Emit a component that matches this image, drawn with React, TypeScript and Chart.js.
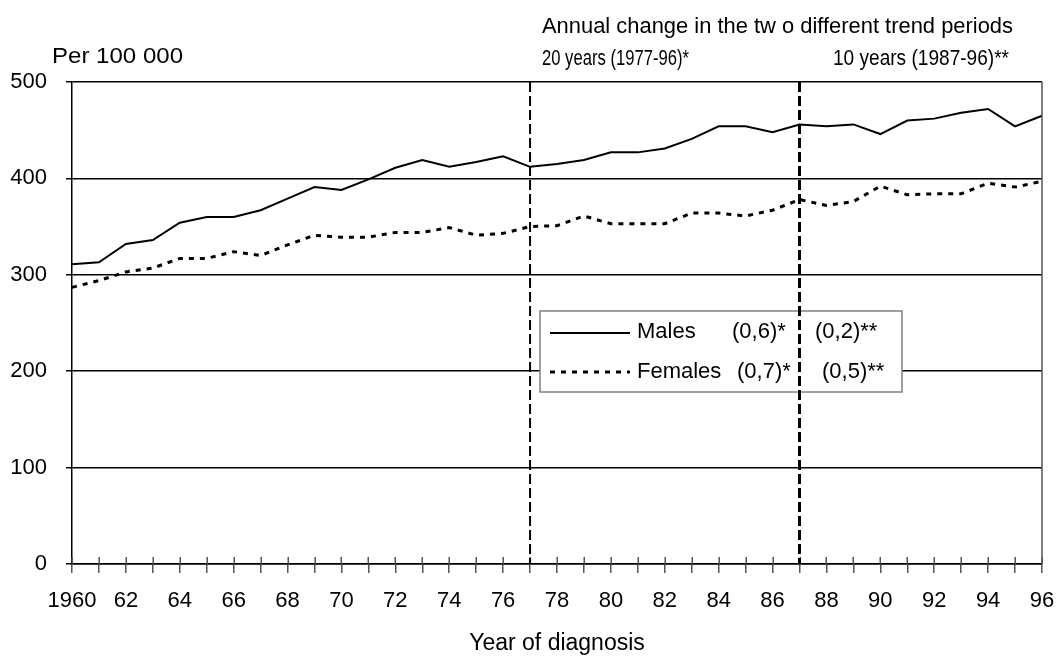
import React, { useEffect, useRef } from 'react';
import { Chart, registerables } from 'chart.js';

Chart.register(...registerables);

// ---- Data ----
const years = [
  1960, 1961, 1962, 1963, 1964, 1965, 1966, 1967, 1968, 1969,
  1970, 1971, 1972, 1973, 1974, 1975, 1976, 1977, 1978, 1979,
  1980, 1981, 1982, 1983, 1984, 1985, 1986, 1987, 1988, 1989,
  1990, 1991, 1992, 1993, 1994, 1995, 1996,
];
const xTickLabels = [
  '1960', '62', '64', '66', '68', '70', '72', '74', '76', '78',
  '80', '82', '84', '86', '88', '90', '92', '94', '96',
];
const males = [
  311, 313, 332, 336, 354, 360, 360, 367, 379, 391,
  388, 399, 411, 419, 412, 417, 423, 412, 415, 419,
  427, 427, 431, 441, 454, 454, 448, 456, 454, 456,
  446, 460, 462, 468, 472, 454, 465,
];
const females = [
  287, 294, 303, 307, 317, 317, 324, 320, 331, 341,
  339, 339, 344, 344, 349, 341, 343, 350, 351, 361,
  353, 353, 353, 364, 364, 361, 367, 378, 372, 376,
  392, 383, 384, 384, 395, 391, 397,
];
const seriesNames = ['Males', 'Females'];
const rate20 = ['(0,6)*', '(0,7)*'];
const rate10 = ['(0,2)**', '(0,5)**'];
const trendStartYears = [1977, 1987];
const yAxisTitle = 'Per 100 000';
const xAxisTitle = 'Year of diagnosis';
const headerTitle = 'Annual change in the tw o different trend periods';
const periodLabels = ['20 years (1977-96)*', '10 years (1987-96)**'];

const FONT = '"Liberation Sans", Arial, Helvetica, sans-serif';

function fitText(ctx: CanvasRenderingContext2D, text: string, x: number, y: number, size: number, width?: number) {
  ctx.save();
  ctx.font = `${size}px ${FONT}`;
  ctx.textBaseline = 'alphabetic';
  ctx.textAlign = 'left';
  ctx.fillStyle = '#000';
  const w = ctx.measureText(text).width;
  const s = width ? width / w : 1;
  ctx.translate(x, y);
  ctx.scale(s, 1);
  ctx.fillText(text, 0, 0);
  ctx.restore();
}

const overlayPlugin = {
  id: 'overlay',
  afterDatasetsDraw(chart: any) {
    const { ctx, chartArea, scales } = chart;
    const xs = scales.x;
    ctx.save();
    // inner halves of x tick marks
    ctx.strokeStyle = '#555';
    ctx.lineWidth = 1.5;
    for (let i = 0; i < years.length; i++) {
      const px = Math.round(xs.getPixelForValue(i)) + 0.25;
      ctx.beginPath();
      ctx.moveTo(px, chartArea.bottom - 7);
      ctx.lineTo(px, chartArea.bottom);
      ctx.stroke();
    }
    // right border
    ctx.strokeStyle = '#555';
    ctx.lineWidth = 1.5;
    ctx.beginPath();
    ctx.moveTo(chartArea.right, chartArea.top);
    ctx.lineTo(chartArea.right, chartArea.bottom);
    ctx.stroke();

    // legend box
    const bx = 540, by = 311, bw = 362, bh = 81;
    ctx.fillStyle = '#fff';
    ctx.fillRect(bx, by, bw, bh);
    ctx.strokeStyle = '#808080';
    ctx.lineWidth = 1.5;
    ctx.strokeRect(bx, by, bw, bh);
    // samples
    ctx.strokeStyle = '#000';
    ctx.lineWidth = 2;
    ctx.setLineDash([]);
    ctx.beginPath();
    ctx.moveTo(550, 333);
    ctx.lineTo(630, 333);
    ctx.stroke();
    ctx.lineWidth = 3;
    ctx.setLineDash([5, 6]);
    ctx.beginPath();
    ctx.moveTo(550, 372);
    ctx.lineTo(630, 372);
    ctx.stroke();
    ctx.setLineDash([]);
    fitText(ctx, seriesNames[0], 637, 338, 22);
    fitText(ctx, rate20[0], 732, 338, 22);
    fitText(ctx, rate10[0], 815, 338, 22);
    fitText(ctx, seriesNames[1], 637, 378, 22);
    fitText(ctx, rate20[1], 737, 378, 22);
    fitText(ctx, rate10[1], 822, 378, 22);

    // vertical trend-period lines
    trendStartYears.forEach((yr, k) => {
      const px = xs.getPixelForValue(years.indexOf(yr));
      ctx.strokeStyle = '#000';
      ctx.lineWidth = k === 0 ? 2 : 3;
      ctx.setLineDash([10, 4]);
      ctx.beginPath();
      ctx.moveTo(px, chartArea.top);
      ctx.lineTo(px, chartArea.bottom);
      ctx.stroke();
    });
    ctx.setLineDash([]);
    ctx.restore();
  },
  afterDraw(chart: any) {
    const { ctx } = chart;
    fitText(ctx, yAxisTitle, 52, 63, 22, 131);
    fitText(ctx, headerTitle, 542, 33, 22, 471);
    fitText(ctx, periodLabels[0], 542, 65, 22, 147);
    fitText(ctx, periodLabels[1], 833, 65, 22, 176);
  },
};

export default function App() {
  const canvasRef = useRef<HTMLCanvasElement | null>(null);

  useEffect(() => {
    const canvas = canvasRef.current;
    if (!canvas) return;
    const chart = new Chart(canvas, {
      type: 'line',
      data: {
        labels: years,
        datasets: [
          {
            label: seriesNames[0],
            data: males,
            borderColor: '#000',
            borderWidth: 2,
            pointRadius: 0,
            tension: 0,
            fill: false,
          },
          {
            label: seriesNames[1],
            data: females,
            borderColor: '#000',
            borderWidth: 3,
            borderDash: [5, 6],
            pointRadius: 0,
            tension: 0,
            fill: false,
          },
        ],
      },
      options: {
        responsive: false,
        animation: false,
        devicePixelRatio: 1,
        layout: { padding: { left: 0, right: 17, top: 82, bottom: 0 } },
        plugins: {
          legend: { display: false },
          tooltip: { enabled: false },
          title: { display: false },
        },
        scales: {
          x: {
            type: 'category',
            offset: false,
            afterFit: (s: any) => {
              s.height = 96;
              s.paddingLeft = 0;
              s.paddingRight = 0;
            },
            grid: {
              display: true,
              drawOnChartArea: false,
              drawTicks: true,
              tickLength: 9,
              color: '#555',
              lineWidth: 1.5,
            },
            border: { display: true, color: '#000', width: 1.5 },
            ticks: {
              autoSkip: false,
              maxRotation: 0,
              minRotation: 0,
              padding: 15,
              color: '#000',
              font: { family: FONT, size: 22 },
              callback: (_v: any, i: number) => (i % 2 === 0 ? xTickLabels[i / 2] : ''),
            },
            title: {
              display: true,
              text: xAxisTitle,
              color: '#000',
              font: { family: FONT, size: 23 },
              padding: { top: 0, bottom: 3 },
            },
          },
          y: {
            min: 0,
            max: 500,
            afterFit: (s: any) => {
              s.width = 72;
              s.paddingTop = 0;
              s.paddingBottom = 0;
            },
            grid: {
              color: '#000',
              lineWidth: 1.5,
              drawTicks: true,
              tickLength: 6,
            },
            border: { display: true, color: '#000', width: 1.5 },
            ticks: {
              stepSize: 100,
              padding: 19,
              color: '#000',
              font: { family: FONT, size: 22 },
            },
          },
        },
      },
      plugins: [overlayPlugin],
    });
    return () => chart.destroy();
  }, []);

  return (
    <div style={{ position: 'absolute', left: 0, top: 0, width: 1059, height: 660, background: '#fff' }}>
      <canvas ref={canvasRef} width={1059} height={660} style={{ display: 'block', width: 1059, height: 660 }} />
    </div>
  );
}
